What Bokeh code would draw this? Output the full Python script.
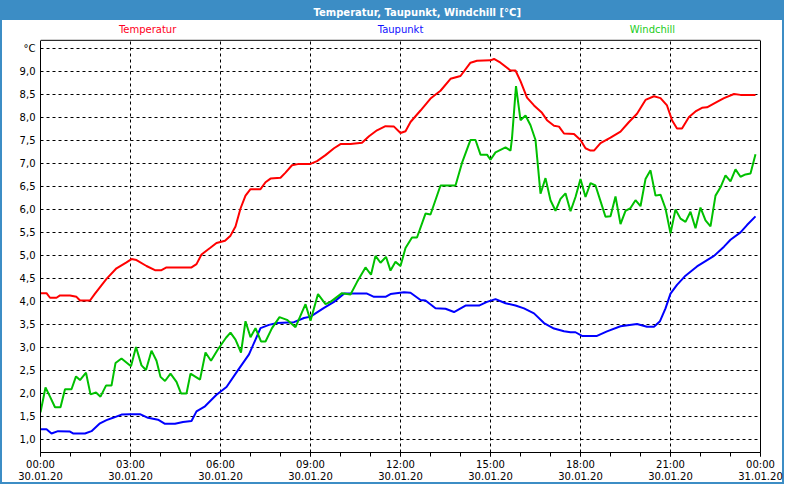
from bokeh.plotting import figure
from bokeh.models import (FixedTicker, Label, BoxAnnotation, Range1d, Span,
                          LinearAxis, Title)
from bokeh.embed import file_html
from bokeh.resources import INLINE

# ---------------- data (minutes since 30.01.20 00:00) ----------------
temp_minutes = [0, 12, 19, 32, 39, 59, 72, 79, 99, 109,
                132, 152, 172, 182, 192, 212, 229, 242, 252, 302,
                312, 322, 339, 352, 369, 380, 390, 400, 410, 420,
                440, 450, 460, 480, 490, 503, 517, 540, 553, 570,
                587, 600, 620, 643, 657, 673, 690, 707, 720, 730,
                740, 760, 780, 800, 820, 840, 860, 873, 900, 907,
                920, 940, 950, 960, 973, 987, 1003, 1013, 1027, 1037,
                1047, 1067, 1080, 1090, 1100, 1107, 1120, 1140, 1160, 1177,
                1193, 1210, 1227, 1240, 1253, 1263, 1273, 1283, 1297, 1310,
                1323, 1333, 1353, 1367, 1387, 1400, 1430]
temp_values = [4.18, 4.18, 4.08, 4.08, 4.13, 4.13, 4.10, 4.02, 4.02, 4.17,
               4.49, 4.72, 4.85, 4.92, 4.90, 4.77, 4.68, 4.68, 4.74, 4.74,
               4.81, 5.02, 5.16, 5.27, 5.32, 5.43, 5.63, 6.02, 6.30, 6.44,
               6.44, 6.59, 6.67, 6.69, 6.80, 6.96, 6.99, 6.99, 7.05, 7.18,
               7.33, 7.42, 7.42, 7.45, 7.59, 7.72, 7.81, 7.80, 7.66, 7.70,
               7.90, 8.15, 8.41, 8.58, 8.84, 8.90, 9.19, 9.23, 9.24, 9.27,
               9.19, 9.02, 9.02, 8.79, 8.43, 8.26, 8.10, 7.94, 7.82, 7.80,
               7.65, 7.64, 7.51, 7.33, 7.28, 7.28, 7.44, 7.56, 7.69, 7.90,
               8.08, 8.38, 8.46, 8.42, 8.26, 7.94, 7.76, 7.76, 8.01, 8.13,
               8.21, 8.22, 8.34, 8.42, 8.51, 8.49, 8.49]

dew_minutes = [0, 12, 22, 35, 59, 65, 89, 102, 119, 132,
               145, 162, 179, 199, 215, 235, 249, 269, 285, 302,
               312, 329, 352, 372, 394, 417, 440, 457, 473, 507,
               527, 540, 567, 587, 607, 653, 667, 690, 700, 727,
               740, 760, 770, 790, 810, 827, 850, 877, 893, 910,
               930, 950, 967, 987, 1007, 1027, 1047, 1060, 1070, 1083,
               1113, 1133, 1160, 1193, 1213, 1227, 1239, 1250, 1260, 1273,
               1290, 1313, 1347, 1367, 1380, 1400, 1413, 1430]
dew_values = [1.22, 1.22, 1.13, 1.18, 1.17, 1.13, 1.13, 1.18, 1.35, 1.42,
              1.47, 1.54, 1.55, 1.55, 1.47, 1.43, 1.34, 1.34, 1.38, 1.40,
              1.61, 1.72, 1.97, 2.14, 2.49, 2.85, 3.42, 3.49, 3.53, 3.55,
              3.64, 3.67, 3.86, 3.99, 4.17, 4.17, 4.10, 4.10, 4.16, 4.20,
              4.19, 4.03, 4.02, 3.85, 3.84, 3.77, 3.91, 3.91, 3.99, 4.05,
              3.96, 3.91, 3.85, 3.74, 3.53, 3.41, 3.35, 3.33, 3.33, 3.25,
              3.25, 3.35, 3.46, 3.51, 3.45, 3.45, 3.57, 3.85, 4.17, 4.36,
              4.56, 4.76, 4.99, 5.19, 5.34, 5.50, 5.66, 5.85]

wind_minutes = [0, 10, 19, 29, 40, 49, 62, 71, 79, 91,
                100, 111, 120, 131, 142, 150, 162, 181, 191, 202,
                211, 222, 232, 240, 249, 260, 272, 281, 292, 300,
                319, 330, 341, 355, 371, 380, 390, 401, 410, 420,
                430, 441, 450, 463, 478, 493, 510, 530, 540, 555,
                570, 580, 603, 620, 633, 650, 661, 670, 680, 691,
                700, 710, 720, 730, 743, 753, 770, 780, 800, 830,
                843, 860, 870, 880, 893, 900, 910, 930, 940, 943,
                951, 960, 970, 980, 990, 1000, 1010, 1020, 1030, 1040,
                1050, 1060, 1070, 1080, 1090, 1100, 1110, 1120, 1130, 1140,
                1150, 1160, 1170, 1180, 1190, 1200, 1210, 1220, 1230, 1240,
                1250, 1260, 1270, 1280, 1290, 1300, 1310, 1320, 1330, 1340,
                1350, 1360, 1370, 1380, 1390, 1400, 1410, 1420, 1430]
wind_values = [1.59, 2.13, 1.93, 1.70, 1.70, 2.09, 2.09, 2.37, 2.29, 2.45,
               1.98, 2.02, 1.93, 2.17, 2.17, 2.66, 2.76, 2.59, 3.01, 2.61,
               2.51, 2.93, 2.71, 2.36, 2.27, 2.43, 2.25, 2.00, 2.00, 2.43,
               2.30, 2.89, 2.71, 2.96, 3.21, 3.32, 3.17, 2.89, 3.57, 3.22,
               3.42, 3.13, 3.13, 3.42, 3.66, 3.60, 3.44, 3.94, 3.58, 4.16,
               3.94, 3.99, 4.18, 4.15, 4.42, 4.74, 4.58, 4.99, 4.84, 4.97,
               4.67, 4.86, 4.77, 5.16, 5.39, 5.39, 5.91, 5.89, 6.52, 6.52,
               7.01, 7.51, 7.51, 7.19, 7.19, 7.08, 7.24, 7.35, 7.28, 7.55,
               8.68, 7.94, 8.04, 7.83, 7.51, 6.34, 6.68, 6.20, 5.97, 6.23,
               6.35, 5.96, 6.27, 6.66, 6.27, 6.57, 6.52, 6.18, 5.84, 5.85,
               6.28, 5.68, 5.97, 6.03, 6.20, 6.07, 6.66, 6.85, 6.30, 6.32,
               6.02, 5.48, 6.00, 5.80, 5.73, 5.95, 5.59, 6.04, 5.76, 5.63,
               6.30, 6.48, 6.74, 6.61, 6.87, 6.71, 6.76, 6.78, 7.20]

series_names = ["Temperatur", "Taupunkt", "Windchill"]
series_colors = ["#FF0000", "#0000FF", "#00C000"]
legend_colors = ["#FF0022", "#1010FF", "#22CC22"]
legend_hours = [3.57, 12.0, 20.4]

x_tick_hours = [0, 3, 6, 9, 12, 15, 18, 21, 24]
x_tick_labels = ["00:00\n30.01.20", "03:00\n30.01.20", "06:00\n30.01.20",
                 "09:00\n30.01.20", "12:00\n30.01.20", "15:00\n30.01.20",
                 "18:00\n30.01.20", "21:00\n30.01.20", "00:00\n31.01.20"]
x_minor_hours = list(range(0, 25))
y_ticks = [1.0, 1.5, 2.0, 2.5, 3.0, 3.5, 4.0, 4.5, 5.0, 5.5, 6.0, 6.5,
           7.0, 7.5, 8.0, 8.5, 9.0, 9.5]
y_tick_labels = ["1,0", "1,5", "2,0", "2,5", "3,0", "3,5", "4,0", "4,5",
                 "5,0", "5,5", "6,0", "6,5", "7,0", "7,5", "8,0", "8,5",
                 "9,0", "°C"]
title_text = "Temperatur, Taupunkt, Windchill [°C]"

# ---------------- layout constants ----------------
FONT = "DejaVu Sans"
BLUE = "#3C8DC5"
W, H = 784, 484
BAR = 20            # title bar height
ROW = 20            # legend-label row height (above plot box)
BOTTOM = 28         # x-axis area
Y_LO, Y_BOX = 0.716, 9.676           # plot box value range
box_px = H - BAR - ROW - BOTTOM      # plot box height in px
Y_TOP = Y_BOX + ROW * (Y_BOX - Y_LO) / box_px   # frame top incl. label row
Y_ROW = Y_BOX + (ROW - 9) * (Y_BOX - Y_LO) / box_px

p = figure(width=W, height=H, output_backend="svg", toolbar_location=None,
           x_range=Range1d(0, 24), y_range=Range1d(Y_LO, Y_TOP),
           min_border_left=40, min_border_right=24,
           min_border_top=BAR, min_border_bottom=BOTTOM)
p.background_fill_color = "white"
p.border_fill_alpha = 0.0
p.outline_line_color = None
p.styles = {
    "background": f"linear-gradient(to bottom, {BLUE} 0px, {BLUE} {BAR}px, white {BAR}px, white 100%)",
    "box-shadow": f"inset 0 0 0 2px {BLUE}",
}

p.title = Title(text=title_text, text_color="white", text_font=FONT,
                text_font_style="bold", text_font_size="10px",
                align="left", offset=273, standoff=6)

hours = lambda mins: [m / 60.0 for m in mins]
p.line(hours(temp_minutes), temp_values, line_color=series_colors[0], line_width=2)
p.line(hours(dew_minutes), dew_values, line_color=series_colors[1], line_width=2)
p.line(hours(wind_minutes), wind_values, line_color=series_colors[2], line_width=2)

# x axis
xa = p.xaxis[0]
xa.ticker = FixedTicker(ticks=x_tick_hours, minor_ticks=x_minor_hours)
xa.major_label_overrides = {h: lab for h, lab in zip(x_tick_hours, x_tick_labels)}
xa.major_tick_in = 0
xa.major_tick_out = 4
xa.minor_tick_in = 0
xa.minor_tick_out = 4
xa.axis_line_color = "black"
xa.major_tick_line_color = "black"
xa.minor_tick_line_color = "black"
xa.major_label_text_font = FONT
xa.major_label_text_font_size = "10px"
xa.major_label_text_color = "black"
xa.major_label_standoff = 2
xa.major_label_text_line_height = 1.1

# y axis (line limited to the plot box)
ya = p.yaxis[0]
ya.ticker = FixedTicker(ticks=y_ticks, minor_ticks=[])
ya.major_label_overrides = {v: lab for v, lab in zip(y_ticks, y_tick_labels)}
ya.bounds = (Y_LO, Y_BOX)
ya.major_tick_in = 0
ya.major_tick_out = 0
ya.axis_line_color = "black"
ya.major_label_text_font = FONT
ya.major_label_text_font_size = "10px"
ya.major_label_text_color = "black"
ya.major_label_standoff = 5

# right edge of the plot box
ra = LinearAxis(ticker=FixedTicker(ticks=[]), bounds=(Y_LO, Y_BOX),
                major_tick_in=0, major_tick_out=0, minor_tick_in=0,
                minor_tick_out=0, major_label_text_font_size="0px",
                axis_line_color="black")
p.add_layout(ra, "right")

for g in (p.xgrid[0], p.ygrid[0]):
    g.grid_line_color = "black"
    g.grid_line_alpha = 1.0
    g.grid_line_dash = "3 3"
    g.grid_line_width = 1

# blank label row above the plot box, and the box's top edge
p.add_layout(BoxAnnotation(bottom=Y_BOX, fill_color="white", fill_alpha=1.0,
                           line_alpha=0, level="overlay"))
p.add_layout(Span(location=Y_BOX, dimension="width", line_color="black",
                  line_width=1, level="overlay"))

# series labels row
for name, col, xh in zip(series_names, legend_colors, legend_hours):
    p.add_layout(Label(x=xh, y=Y_ROW, text=name, text_color=col, text_font=FONT,
                       text_font_size="10px", text_align="center",
                       text_baseline="middle", level="overlay"))

open("out.html", "w").write(file_html(p, INLINE))
